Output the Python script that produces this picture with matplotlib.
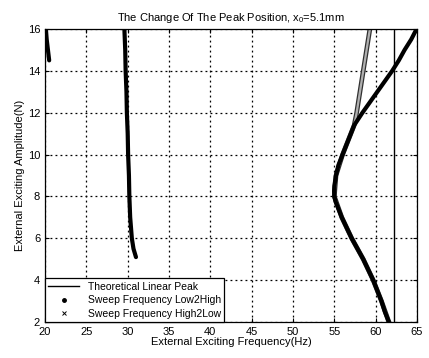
import numpy as np
import matplotlib
matplotlib.use('Agg')
from matplotlib import pyplot as plt
from matplotlib.lines import Line2D
import matplotlib.patheffects as pe

plt.rcParams['font.family'] = ['Liberation Sans', 'DejaVu Sans']
plt.rcParams['mathtext.default'] = 'regular'

# 理論線形ピーク
theory_peak = 62.2

# Low2High（右側の曲線）
up_main_f = [61.6, 61.1, 60.7, 60.2, 59.7, 59.1, 58.5, 57.8, 57.1, 56.5, 55.9, 55.4,
             55.15, 55.0, 54.97, 55.0, 55.2, 55.5, 56.0, 56.6, 57.4, 58.4, 59.3, 60.2,
             61.1, 62.0, 62.8, 63.5, 64.3, 64.95]
up_main_a = [2.0, 2.5, 3.0, 3.5, 4.0, 4.5, 5.0, 5.5, 6.0, 6.5, 7.0, 7.5,
             7.75, 8.0, 8.25, 8.5, 9.0, 9.5, 10.0, 10.6, 11.4, 12.0, 12.5, 13.0,
             13.5, 14.0, 14.5, 15.0, 15.5, 16.0]
# Low2High（30Hz付近）
up_mid_f = [29.6, 29.7, 29.75, 29.85, 29.9, 30.0, 30.05, 30.15, 30.2, 30.3, 30.5, 30.7, 31.0]
up_mid_a = [16.0, 15.0, 14.0, 13.0, 12.0, 11.0, 10.0, 9.0, 8.0, 7.0, 6.0, 5.5, 5.1]
# Low2High（20Hz付近）
up_left_f = [20.1, 20.2, 20.35, 20.5]
up_left_a = [16.0, 15.5, 15.0, 14.5]

# High2Low
down_f = [61.6, 60.7, 59.7, 58.5, 57.1, 55.9, 55.0, 55.2, 56.0, 56.6, 57.4,
          57.7, 58.1, 58.5, 58.9, 59.3]
down_a = [2.0, 3.0, 4.0, 5.0, 6.0, 7.0, 8.0, 9.0, 10.0, 10.6, 11.4,
          12.0, 13.0, 14.0, 15.0, 16.0]

x_ticks = [20, 25, 30, 35, 40, 45, 50, 55, 60, 65]
y_ticks = [2, 4, 6, 8, 10, 12, 14, 16]

# グラフ設定
fig = plt.figure(figsize=(4.29, 3.58), dpi=100)
ax = fig.add_axes([0.105, 0.1006, 0.867, 0.8184])

ax.axvline(theory_peak, color='black', lw=1.0)

# High2Low（灰色のハッチ状の線）
ax.plot(down_f, down_a, color='#b0b0b0', lw=1.6, solid_joinstyle='round',
        path_effects=[pe.Stroke(linewidth=3.4, foreground='#303030'), pe.Normal()])

# Low2High（太い黒線）
for f, a in [(up_main_f, up_main_a), (up_mid_f, up_mid_a), (up_left_f, up_left_a)]:
    ax.plot(f, a, color='black', lw=3.0, solid_capstyle='round', solid_joinstyle='round')

ax.set_xlim(20, 65)
ax.set_ylim(2, 16)
ax.set_xticks(x_ticks)
ax.set_yticks(y_ticks)
ax.grid(True, color='black', linestyle=(0, (1.5, 2.5)), lw=0.9)
ax.tick_params(direction='in', labelsize=8, length=3, top=True, right=True)
for s in ax.spines.values():
    s.set_linewidth(0.9)

ax.set_xlabel('External Exciting Frequency(Hz)', fontsize=8, labelpad=0)
ax.set_ylabel('External Exciting Amplitude(N)', fontsize=8, labelpad=2)
ax.set_title('The Change Of The Peak Position, x$_0$=5.1mm', fontsize=8, pad=6)

handles = [Line2D([], [], color='black', lw=1.0),
           Line2D([], [], color='black', ls='none', marker='.', ms=5),
           Line2D([], [], color='black', ls='none', marker='x', ms=3, mew=0.7)]
labels = ['Theoretical Linear Peak', 'Sweep Frequency Low2High', 'Sweep Frequency High2Low']
leg = ax.legend(handles, labels, loc='lower left', fontsize=7.5, fancybox=False,
                framealpha=1, edgecolor='black', borderaxespad=0, handlelength=3,
                borderpad=0.3, labelspacing=0.35)
leg.get_frame().set_linewidth(0.9)

fig.savefig('out.png', dpi=100)
plt.close()
